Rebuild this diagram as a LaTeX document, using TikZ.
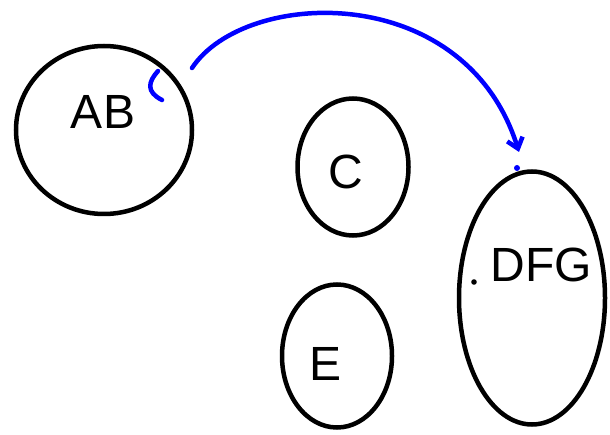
\documentclass[tikz,border=0pt]{standalone}
\usepackage{fontspec}
\setmainfont{Liberation Sans}
\usetikzlibrary{shapes.geometric,arrows.meta}
\begin{document}
\begin{tikzpicture}[x=1pt,y=-1pt,
  blob/.style={draw=black, line width=4.5pt, ellipse, inner sep=0pt},
  lbl/.style={font=\fontsize{48}{48}\selectfont, inner sep=0pt},
  link/.style={draw=blue, line width=4.5pt, line cap=round, line join=round}]
\useasboundingbox (0,0) rectangle (610,435);
\node[blob, minimum width=176pt, minimum height=168pt] (AB) at (104,130) {};
\node[blob, minimum width=111pt, minimum height=137pt] (C) at (353,167) {};
\node[blob, minimum width=110pt, minimum height=143pt] (E) at (337,356) {};
\node[blob, minimum width=146pt, minimum height=253pt] (DFG) at (532,298) {};
\node[lbl] (tAB) at (103,112) {AB};
\node[lbl] (tC) at (346,172) {C};
\node[lbl] (tE) at (326,364) {E};
\node[lbl] (tDFG) at (541,265) {DFG};
\coordinate (s) at (192,68);
\coordinate (t) at (519,152);
\draw[link, -{Straight Barb[length=10pt,width=16pt]}] (s) .. controls (245,-12) and (465,-20) .. (t);
\draw[link] (158,71) .. controls (148,82) and (146,92) .. (162,100);
\fill[blue] (517,168) circle (3pt);
\fill[black] (474,282) circle (2.8pt);
\end{tikzpicture}
\end{document}
